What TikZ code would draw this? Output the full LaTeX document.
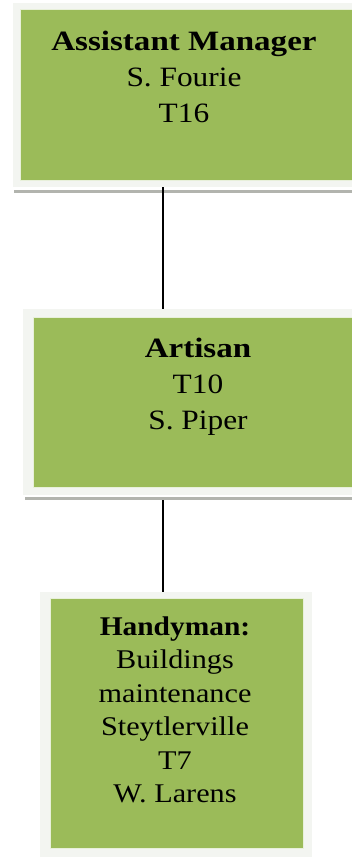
\documentclass[tikz,border=0pt]{standalone}
\usepackage{fontspec}
\setmainfont{Liberation Serif}[FakeStretch=1.12, BoldFeatures={FakeStretch=1.18}]
\newfontfamily\handybold{Liberation Serif Bold}[FakeStretch=1.09]
\definecolor{boxgreen}{RGB}{155,187,89}
\definecolor{frameclr}{RGB}{243,245,241}
\definecolor{inneredge}{RGB}{232,240,218}
\definecolor{shadowclr}{RGB}{178,180,174}
\tikzset{
  frame/.style={fill=frameclr, draw=none, inner sep=0pt, anchor=north west},
  greenbox/.style={fill=boxgreen, draw=inneredge, line width=1.2pt, inner sep=0pt, anchor=north west},
  shadowbar/.style={fill=shadowclr, draw=none, inner sep=0pt, anchor=north west},
  label/.style={align=center, inner sep=0pt, anchor=north, font=\fontsize{28}{36}\selectfont},
  label3/.style={align=center, inner sep=0pt, anchor=north, font=\fontsize{27}{33.5}\selectfont},
  conn/.style={line width=2pt, black}
}
\begin{document}
\begin{tikzpicture}[x=1pt,y=1pt]
\useasboundingbox (0,0) rectangle (352,-858);
% box 1
\node[shadowbar, minimum width=346, minimum height=3.5] (s1) at (14,-189.5) {};
\node[frame, minimum width=347, minimum height=184] (f1) at (13,-3) {};
\node[greenbox, minimum width=340, minimum height=171] (g1) at (20,-9) {};
\node[label] (t1) at (184,-31) {\textbf{Assistant Manager}\\S. Fourie\\T16};
% box 2
\node[shadowbar, minimum width=335, minimum height=3.5] (s2) at (25,-496.5) {};
\node[frame, minimum width=337, minimum height=186] (f2) at (23,-309) {};
\node[greenbox, minimum width=327, minimum height=170] (g2) at (33,-317) {};
\node[label] (t2) at (198,-338) {\textbf{Artisan}\\T10\\S. Piper};
% box 3
\node[frame, minimum width=272, minimum height=265] (f3) at (40,-592) {};
\node[greenbox, minimum width=253, minimum height=250] (g3) at (50,-598) {};
\node[label3] (t3) at (175,-616.5) {{\handybold Handyman:}\\Buildings\\maintenance\\Steytlerville\\T7\\W. Larens};
% connectors
\coordinate (cx) at (163,0);
\draw[conn] (cx |- f1.south) -- (cx |- f2.north);
\draw[conn] (cx |- s2.south) -- (cx |- f3.north);
\end{tikzpicture}
\end{document}
